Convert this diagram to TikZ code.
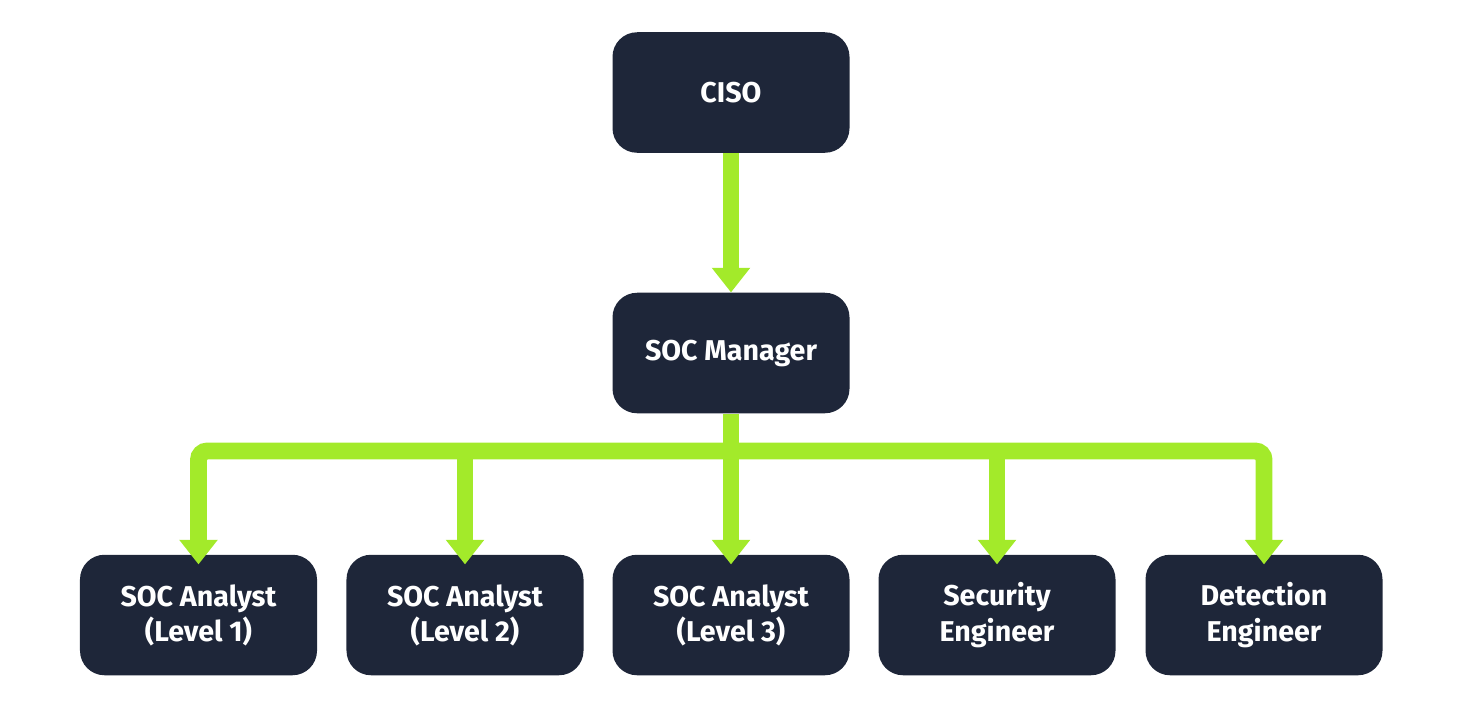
\documentclass[tikz,border=0pt]{standalone}
\usepackage{fontspec}
\setmainfont{Fira Sans}
\usetikzlibrary{arrows.meta,calc}

\definecolor{socnavy}{HTML}{1E2639}
\definecolor{socgreen}{HTML}{A3EA2A}

\begin{document}
\begin{tikzpicture}[x=0.02cm,y=-0.02cm,
	]

	\tikzset{role/.style={
				rectangle,rounded corners=14pt,fill=socnavy,
				minimum width=134.9pt,minimum height=68.6pt,
				text=white,align=center,inner sep=0pt,
				font=\bfseries\fontsize{16.3}{20}\selectfont}
	}
	\tikzset{link/.style={
				draw=socgreen,line width=9.6pt,
				-{Triangle[width=21pt,length=14pt]}}
	}

	\useasboundingbox (0,0) rectangle (1459,718);

	\node[role] (ciso) at (731,92.5) {CISO};
	\node[role] (mgr) at (731,353) {SOC Manager};

	% bottom row of roles
	\node[role] (an1) at (198.5,615) {SOC Analyst\\(Level 1)};
	\node[role] (an2) at (465,615) {SOC Analyst\\(Level 2)};
	\node[role] (an3) at (731,615) {SOC Analyst\\(Level 3)};
	\node[role] (seceng) at (997,615) {Security\\Engineer};
	\node[role] (deteng) at (1264,615) {Detection\\Engineer};

	\coordinate (bus) at (731,451);

	\draw[link] (ciso) -- (mgr);

	% the bus and its five drops
	\draw[link,{Triangle[width=21pt,length=14pt]}-{Triangle[width=21pt,length=14pt]},
		rounded corners=5pt,shorten <=-5.7pt,shorten >=-5.7pt]
		(an1.north) |- (bus) -| (deteng.north);
	\draw[link,shorten >=-5.7pt] (mgr) -- (an3);
	\draw[link,shorten >=-5.7pt] (an2.north |- bus) -- (an2.north);
	\draw[link,shorten >=-5.7pt] (seceng.north |- bus) -- (seceng.north);

\end{tikzpicture}
\end{document}
